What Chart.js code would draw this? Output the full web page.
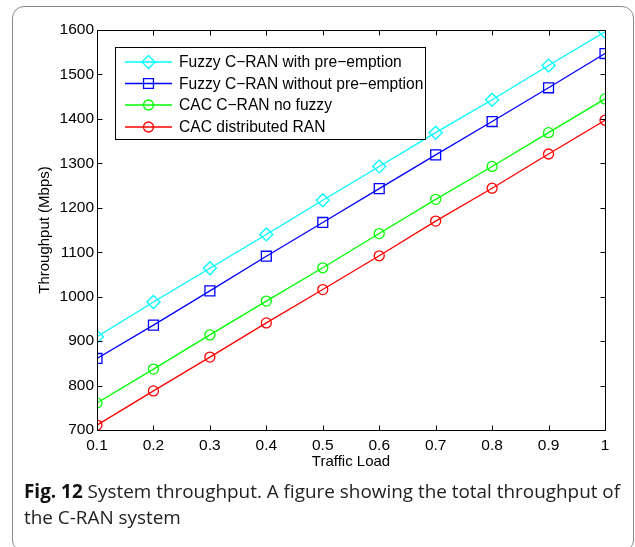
<!DOCTYPE html>
<html>
<head>
<meta charset="utf-8">
<script src="https://cdn.jsdelivr.net/npm/chart.js@4.4.1/dist/chart.umd.min.js"></script>
<style>
  html, body { margin: 0; padding: 0; background: #fff; width: 635px; height: 547px; overflow: hidden; }
  #frame { position: absolute; left: 12px; top: 6px; width: 622px; height: 546px; border: 1px solid #8a8a8a; border-radius: 12px; box-sizing: border-box; }
  #c { position: absolute; left: 0; top: 0; }
  #caption { position: absolute; left: 24px; top: 478px; width: 605px; font-family: "Open Sans", "Noto Sans", sans-serif; font-size: 18.9px; line-height: 26px; color: #222; letter-spacing: 0; white-space: nowrap; }
  #caption b { font-weight: 700; color: #111; }
</style>
</head>
<body>
<div id="frame"></div>
<canvas id="c" width="635" height="480"></canvas>
<div id="caption"><b>Fig. 12</b> System throughput. A figure showing the total throughput of<br>the C-RAN system</div>
<script>
// ---- data ----
const trafficLoad = [0.1, 0.2, 0.3, 0.4, 0.5, 0.6, 0.7, 0.8, 0.9, 1.0];
const fuzzyWithPreemption = [910, 988, 1064, 1140, 1217, 1293, 1369, 1443, 1520, 1596];
const fuzzyWithoutPreemption = [861, 936, 1013, 1091, 1167, 1243, 1319, 1394, 1470, 1547];
const cacCranNoFuzzy = [761, 837, 914, 990, 1065, 1142, 1219, 1293, 1369, 1445];
const cacDistributedRan = [711, 788, 864, 941, 1016, 1092, 1170, 1244, 1321, 1397];
const seriesNames = ["Fuzzy C\u2212RAN with pre\u2212emption", "Fuzzy C\u2212RAN without pre\u2212emption", "CAC C\u2212RAN no fuzzy", "CAC distributed RAN"];
const xTickValues = [0.1, 0.2, 0.3, 0.4, 0.5, 0.6, 0.7, 0.8, 0.9, 1.0];
const yTickValues = [700, 800, 900, 1000, 1100, 1200, 1300, 1400, 1500, 1600];
const xTitle = "Traffic Load";
const yTitle = "Throughput (Mbps)";

const FONT = '"Liberation Sans", Arial, Helvetica, sans-serif';

function mk(label, values, color, style, radius) {
  return {
    label,
    data: trafficLoad.map((x, i) => ({ x, y: values[i] })),
    borderColor: color,
    backgroundColor: 'rgba(0,0,0,0)',
    pointBorderColor: color,
    pointBackgroundColor: 'rgba(0,0,0,0)',
    pointStyle: style,
    pointRadius: radius,
    pointBorderWidth: 1.3,
    borderWidth: 1.3,
    tension: 0,
    fill: false
  };
}

const datasets = [
  mk(seriesNames[0], fuzzyWithPreemption, '#00FFFF', 'rectRot', 6.5),
  mk(seriesNames[1], fuzzyWithoutPreemption, '#0000FF', 'rect', 7),
  mk(seriesNames[2], cacCranNoFuzzy, '#00FF00', 'circle', 5),
  mk(seriesNames[3], cacDistributedRan, '#FF0000', 'circle', 5)
];

function drawMarker(ctx, style, x, y, r) {
  ctx.beginPath();
  if (style === 'circle') {
    ctx.arc(x, y, r, 0, Math.PI * 2);
  } else if (style === 'rect') {
    const s = r * Math.SQRT1_2;
    ctx.rect(x - s, y - s, 2 * s, 2 * s);
  } else {
    ctx.moveTo(x, y - r); ctx.lineTo(x + r, y); ctx.lineTo(x, y + r); ctx.lineTo(x - r, y); ctx.closePath();
  }
  ctx.stroke();
}

const boxPlugin = {
  id: 'matlabBox',
  afterDatasetsDraw(chart) {
    const { ctx, chartArea: a, scales } = chart;
    ctx.save();
    ctx.strokeStyle = '#000';
    ctx.lineWidth = 1;
    const L = Math.round(a.left) + 0.5, R = Math.round(a.right) + 0.5, T = Math.round(a.top) + 0.5, B = Math.round(a.bottom) + 0.5;
    ctx.beginPath();
    ctx.rect(L, T, R - L, B - T);
    ctx.stroke();
    const tl = 5;
    ctx.beginPath();
    scales.x.ticks.forEach(t => {
      const px = Math.round(scales.x.getPixelForValue(t.value)) + 0.5;
      ctx.moveTo(px, B); ctx.lineTo(px, B - tl);
      ctx.moveTo(px, T); ctx.lineTo(px, T + tl);
    });
    scales.y.ticks.forEach(t => {
      const py = Math.round(scales.y.getPixelForValue(t.value)) + 0.5;
      ctx.moveTo(L, py); ctx.lineTo(L + tl, py);
      ctx.moveTo(R, py); ctx.lineTo(R - tl, py);
    });
    ctx.stroke();
    ctx.restore();
  },
  afterDraw(chart) {
    const ctx = chart.ctx;
    ctx.save();
    const bx = 115.5, by = 47.5, bw = 310, bh = 92;
    ctx.fillStyle = '#fff';
    ctx.fillRect(bx, by, bw, bh);
    ctx.strokeStyle = '#000';
    ctx.lineWidth = 1;
    ctx.strokeRect(bx, by, bw, bh);
    const rows = [62, 83.5, 105, 127];
    ctx.font = '15.6px ' + FONT;
    ctx.textBaseline = 'middle';
    ctx.textAlign = 'left';
    chart.data.datasets.forEach((ds, i) => {
      const y = rows[i];
      ctx.strokeStyle = ds.borderColor;
      ctx.lineWidth = 1.3;
      ctx.beginPath();
      ctx.moveTo(125, y); ctx.lineTo(172, y);
      ctx.stroke();
      drawMarker(ctx, ds.pointStyle, 148.5, y, ds.pointStyle === 'rect' ? 7 : ds.pointRadius);
      ctx.fillStyle = '#000';
      ctx.fillText(ds.label, 179, y + 1);
    });
    ctx.restore();
  }
};

new Chart(document.getElementById('c'), {
  type: 'line',
  data: { datasets },
  options: {
    responsive: false,
    animation: false,
    events: [],
    layout: { padding: { left: 0, top: 30, right: 30, bottom: 0 } },
    plugins: { legend: { display: false }, tooltip: { enabled: false } },
    scales: {
      x: {
        type: 'linear',
        min: 0.1, max: 1,
        afterBuildTicks: s => { s.ticks = xTickValues.map(v => ({ value: v })); },
        afterFit: s => { s.height = 50; },
        grid: { display: false, drawTicks: false },
        border: { display: false },
        ticks: {
          padding: 6, color: '#000', font: { family: FONT, size: 15.5 }, maxRotation: 0, autoSkip: false,
          callback: v => (Math.abs(v - 1) < 1e-9 ? '1' : v.toFixed(1))
        },
        title: { display: true, text: xTitle, color: '#000', font: { family: FONT, size: 15 }, padding: { top: 0, bottom: 9 } }
      },
      y: {
        type: 'linear',
        min: 700, max: 1600,
        afterBuildTicks: s => { s.ticks = yTickValues.map(v => ({ value: v })); },
        afterFit: s => { s.width = 97; },
        grid: { display: false, drawTicks: false },
        border: { display: false },
        ticks: { padding: 3, color: '#000', font: { family: FONT, size: 15.5 }, autoSkip: false, callback: v => String(Math.round(v)) },
        title: { display: true, text: yTitle, color: '#000', font: { family: FONT, size: 15 }, padding: { top: 36, bottom: 0 } }
      }
    }
  },
  plugins: [boxPlugin]
});
</script>
</body>
</html>
